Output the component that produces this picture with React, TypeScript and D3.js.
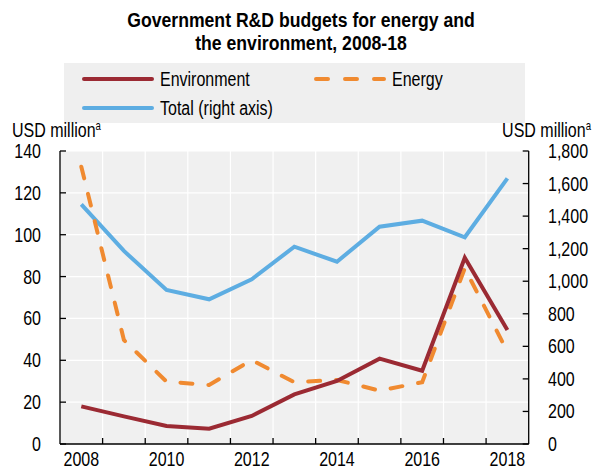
import React from "react";
import * as d3 from "d3";

const years = [2008, 2009, 2010, 2011, 2012, 2013, 2014, 2015, 2016, 2017, 2018];
const environment = [18, 13.2, 8.6, 7.3, 13.4, 23.7, 30.1, 40.8, 35.0, 89.0, 54.5];
const energy = [132.5, 49.7, 29.8, 28.2, 40.1, 29.5, 30.6, 25.5, 29.5, 84, 44.1];
const total = [1472, 1186, 946, 889, 1012, 1212, 1120, 1335, 1372, 1270, 1632];
const leftTicks = [0, 20, 40, 60, 80, 100, 120, 140];
const rightTicks = [0, 200, 400, 600, 800, 1000, 1200, 1400, 1600, 1800];
const xLabels = [2008, 2010, 2012, 2014, 2016, 2018];

const FONT = "'Liberation Sans', Arial, sans-serif";
const RED = "#9B2A33";
const ORANGE = "#F08A30";
const BLUE = "#5DADE2";
const SX = 0.8;

function NText(props: {
  x: number;
  y: number;
  size?: number;
  anchor?: "start" | "middle" | "end";
  bold?: boolean;
  sx?: number;
  children: React.ReactNode;
}) {
  const { x, y, size = 20, anchor = "start", bold = false, sx = SX, children } = props;
  return (
    <text
      transform={`translate(${x},${y}) scale(${sx},1)`}
      textAnchor={anchor}
      fontSize={size}
      fontWeight={bold ? "bold" : "normal"}
      fill="#000"
    >
      {children}
    </text>
  );
}

export default function App() {
  const W = 592, H = 470;
  const x0 = 60, x1 = 528.7, yTop = 151, yBot = 444;
  const x = d3.scaleBand<number>().domain(years).range([x0, x1]).padding(0);
  const yL = d3.scaleLinear().domain([0, 140]).range([yBot, yTop]);
  const yR = d3.scaleLinear().domain([0, 1800]).range([yBot, yTop]);
  const cx = (yr: number) => (x(yr) as number) + x.bandwidth() / 2;

  const lineL = d3.line<number>().x((_, i) => cx(years[i])).y((d) => yL(d));
  const lineR = d3.line<number>().x((_, i) => cx(years[i])).y((d) => yR(d));

  const bounds = years.slice(1).map((yr) => x(yr) as number);

  return (
    <svg width={W} height={H} style={{ position: "absolute", left: 0, top: 0 }} fontFamily={FONT}>
      <NText x={301} y={27} anchor="middle" bold size={21} sx={0.84}>
        Government R&amp;D budgets for energy and
      </NText>
      <NText x={301} y={50} anchor="middle" bold size={21} sx={0.84}>
        the environment, 2008-18
      </NText>

      {/* legend */}
      <rect x={64} y={63} width={461} height={60} fill="#efefef" />
      <line x1={84} x2={152} y1={79} y2={79} stroke={RED} strokeWidth={4} strokeLinecap="round" />
      <NText x={160} y={86}>Environment</NText>
      <line x1={316} x2={384} y1={79} y2={79} stroke={ORANGE} strokeWidth={4} strokeLinecap="round" strokeDasharray="12 17" />
      <NText x={392} y={86}>Energy</NText>
      <line x1={84} x2={152} y1={108} y2={108} stroke={BLUE} strokeWidth={4} strokeLinecap="round" />
      <NText x={160} y={115}>Total (right axis)</NText>

      {/* plot background */}
      <rect x={x0} y={yTop} width={x1 - x0} height={yBot - yTop} fill="#f0f0f0" />
      {leftTicks.slice(1).map((t) => (
        <line key={"g" + t} x1={x0} x2={x1} y1={yL(t)} y2={yL(t)} stroke="#fff" strokeWidth={1.2} />
      ))}
      {bounds.map((b, i) => (
        <line key={"v" + i} x1={b} x2={b} y1={yTop} y2={yBot} stroke="#fff" strokeWidth={1.2} />
      ))}

      {/* axes */}
      <line x1={x0} x2={x0} y1={yTop} y2={yBot} stroke="#000" strokeWidth={1.3} />
      <line x1={x1} x2={x1} y1={yTop} y2={yBot} stroke="#000" strokeWidth={1.3} />
      <line x1={x0} x2={x1} y1={yBot} y2={yBot} stroke="#000" strokeWidth={1.3} />
      {leftTicks.map((t) => (
        <g key={"l" + t}>
          <line x1={x0} x2={x0 + 6} y1={yL(t)} y2={yL(t)} stroke="#000" strokeWidth={1.3} />
          <NText x={41} y={yL(t) + 7} anchor="end">{t}</NText>
        </g>
      ))}
      {rightTicks.map((t) => (
        <g key={"r" + t}>
          <line x1={x1 - 6} x2={x1} y1={yR(t)} y2={yR(t)} stroke="#000" strokeWidth={1.3} />
          <NText x={548} y={yR(t) + 7}>{d3.format(",")(t)}</NText>
        </g>
      ))}
      {bounds.map((b, i) => (
        <line key={"xt" + i} x1={b} x2={b} y1={yBot} y2={yBot - 6} stroke="#000" strokeWidth={1.3} />
      ))}
      {xLabels.map((yr) => (
        <NText key={"xl" + yr} x={cx(yr)} y={466} anchor="middle">{yr}</NText>
      ))}

      {/* axis titles */}
      <NText x={12} y={137}>
        USD million<tspan fontSize={12} dy={-7}>a</tspan>
      </NText>
      <NText x={591} y={137} anchor="end">
        USD million<tspan fontSize={12} dy={-7}>a</tspan>
      </NText>

      {/* series */}
      <path d={lineR(total) as string} fill="none" stroke={BLUE} strokeWidth={4} />
      <path d={lineL(energy) as string} fill="none" stroke={ORANGE} strokeWidth={4} strokeDasharray="12 16" strokeLinecap="round" />
      <path d={lineL(environment) as string} fill="none" stroke={RED} strokeWidth={4} />
    </svg>
  );
}
